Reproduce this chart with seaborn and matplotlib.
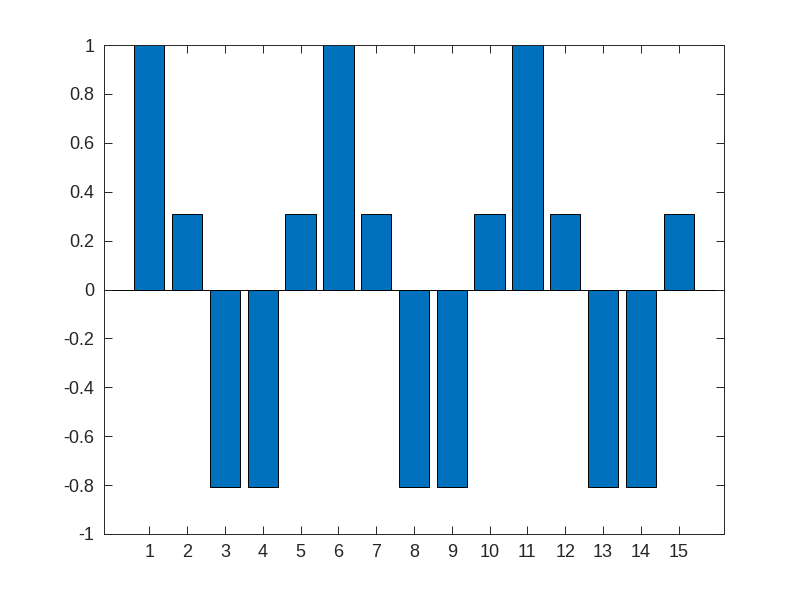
import numpy as np
import pandas as pd
import seaborn as sns
import matplotlib.pyplot as plt

# values
samples = list(range(1, 16))
values = [1.0, 0.309, -0.809, -0.809, 0.309,
          1.0, 0.309, -0.809, -0.809, 0.309,
          1.0, 0.309, -0.809, -0.809, 0.309]
y_ticks = [-1, -0.8, -0.6, -0.4, -0.2, 0, 0.2, 0.4, 0.6, 0.8, 1]

sns.set_style('white')
plt.rcParams['font.family'] = ['Liberation Sans', 'DejaVu Sans']

df = pd.DataFrame({'n': samples, 'v': values})

fig = plt.figure(figsize=(8, 6), dpi=100)
ax = fig.add_axes([0.13, 0.11, 0.775, 0.815])

_ = sns.barplot(data=df, x='n', y='v', order=samples, color='#0072BD',
                saturation=1, width=0.8, edgecolor='black', linewidth=0.7, ax=ax)
ax.axhline(0, color='black', linewidth=0.7, zorder=0.5)

ax.set_xlim(-1.2, 15.2)
ax.set_ylim(-1, 1)
ax.set_yticks(y_ticks)
ax.set_yticklabels([f'{t:g}' for t in y_ticks])
ax.set_xlabel('')
ax.set_ylabel('')
ax.tick_params(direction='in', length=6, width=0.7, colors='#262626', labelsize=13,
               bottom=True, left=True, top=True, right=True, pad=7)
for s in ax.spines.values():
    s.set_linewidth(0.7)
    s.set_color('#262626')

fig.savefig('out.png', dpi=100)
